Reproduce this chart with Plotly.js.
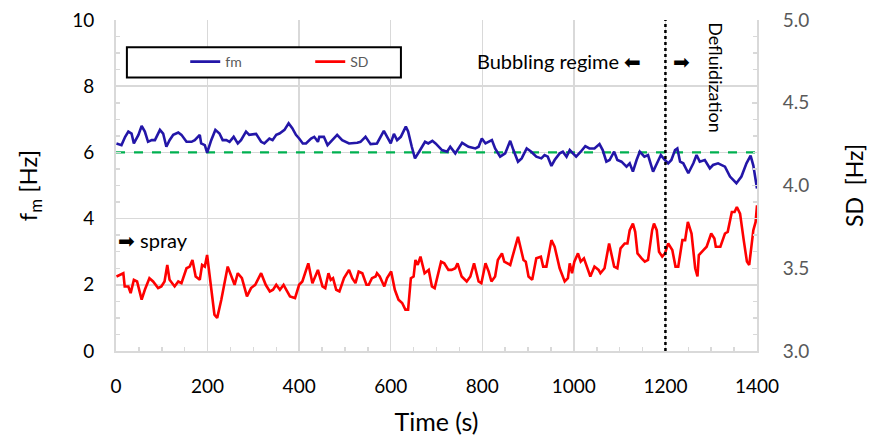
<!DOCTYPE html>
<html>
<head>
<meta charset="utf-8">
<script src="https://cdn.plot.ly/plotly-3.0.1.min.js"></script>
<style>html,body{margin:0;padding:0;background:#fff;}#chart{width:869px;height:436px;}</style>
</head>
<body>
<div id="chart"></div>
<script>
// fm series (left axis, Hz)
const fmTime = [1,12,20,27,34,39,49,56,63,70,78,85,96,103,110,117,125,136,143,154,165,172,183,186,194,199,208,217,226,233,241,248,257,266,273,284,291,306,317,324,335,342,350,357,368,377,385,393,400,408,415,426,433,441,
444,454,462,469,483,494,509,527,534,545,556,570,585,600,607,614,622,633,638,646,653,662,675,682,691,698,712,723,730,741,756,770,785,792,799,807,814,821,828,839,850,861,868,878,886,897,
907,918,929,936,943,951,958,969,976,984,991,998,1005,1015,1025,1034,1045,1056,1063,1071,1078,1088,1095,1104,1115,1122,1129,1137,1144,1154,1162,1173,1180,1190,1199,1206,1213,1221,1226,1232,1239,1250,1261,1268,1275,1286,1297,1304,1315,1330,1341,1355,1366,1377,1386,1392,1400];
const fmValues = [6.27,6.22,6.47,6.63,6.57,6.27,6.53,6.80,6.63,6.32,6.37,6.37,6.68,6.57,6.17,6.37,6.53,6.60,6.53,6.32,6.32,6.37,6.53,6.27,6.22,5.99,6.37,6.68,6.57,6.37,6.37,6.32,6.47,6.27,6.37,6.63,6.53,6.56,6.32,6.27,6.42,6.37,6.53,6.57,6.68,6.88,6.73,6.53,6.42,6.27,6.27,6.42,6.47,6.32,
6.47,6.47,6.22,6.32,6.53,6.37,6.27,6.29,6.32,6.47,6.25,6.27,6.65,6.27,6.56,6.37,6.47,6.78,6.63,6.17,5.82,6.02,6.32,6.27,6.35,6.27,6.07,6.02,6.17,5.97,6.29,6.17,6.12,6.17,6.42,6.27,6.32,6.37,6.12,5.87,5.97,6.35,6.07,5.72,5.82,6.12,
6.02,5.87,5.82,5.92,5.87,5.59,5.77,5.97,6.02,5.87,6.07,5.97,5.87,6.02,6.19,6.12,6.12,6.25,6.07,5.72,5.77,6.02,5.77,5.72,5.57,5.67,5.42,5.77,6.02,5.87,5.92,5.42,5.62,5.92,5.77,5.67,5.77,6.07,6.12,5.72,5.67,5.37,5.67,5.92,5.72,5.77,5.52,5.62,5.67,5.57,5.27,5.07,5.27,5.67,5.90,5.60,4.91];

// SD series (right axis, Hz)
const sdTime = [1,7,16,19,27,32,39,46,56,63,73,81,92,99,106,112,117,128,136,143,154,161,167,174,183,188,194,199,208,215,221,230,244,252,259,266,275,286,295,304,317,327,336,343,350,358,366,372,380,391,400,407,420,429,441,
451,457,464,469,474,481,488,498,509,516,523,530,538,547,552,559,567,570,576,586,592,601,609,617,625,632,638,644,650,654,659,665,674,683,690,696,710,717,726,733,741,746,755,766,774,782,792,798,807,814,820,828,834,843,848,861,866,878,890,895,
901,909,918,928,933,940,951,958,969,980,987,991,996,1001,1009,1015,1022,1029,1036,1045,1054,1058,1067,1077,1082,1088,1095,1102,1111,1117,1122,1129,1134,1139,1148,1155,1162,1171,1175,1181,1186,1193,1199,1206,1215,1222,1228,1237,1243,1249,1257,1265,1270,1273,1283,1290,1300,1307,1310,1320,1330,1336,1345,1351,1356,1363,1371,1378,1383,1392,1397,1400];
const sdValues = [3.45,3.46,3.47,3.39,3.39,3.35,3.43,3.42,3.31,3.37,3.44,3.42,3.38,3.39,3.42,3.52,3.43,3.39,3.42,3.41,3.50,3.51,3.55,3.45,3.43,3.52,3.51,3.58,3.37,3.22,3.20,3.31,3.51,3.45,3.40,3.47,3.44,3.33,3.38,3.40,3.47,3.40,3.36,3.37,3.40,3.37,3.40,3.37,3.33,3.32,3.40,3.42,3.53,3.41,3.49,
3.39,3.38,3.47,3.43,3.44,3.37,3.36,3.44,3.49,3.44,3.41,3.48,3.47,3.40,3.40,3.44,3.45,3.47,3.45,3.39,3.44,3.48,3.37,3.31,3.29,3.25,3.25,3.44,3.45,3.55,3.52,3.57,3.47,3.49,3.39,3.38,3.54,3.53,3.49,3.49,3.50,3.53,3.45,3.42,3.45,3.53,3.42,3.41,3.53,3.48,3.42,3.45,3.55,3.59,3.54,3.52,3.57,3.69,3.55,3.54,
3.45,3.43,3.56,3.57,3.51,3.51,3.67,3.63,3.50,3.42,3.44,3.53,3.47,3.54,3.59,3.54,3.56,3.51,3.45,3.51,3.49,3.47,3.50,3.65,3.59,3.51,3.50,3.62,3.65,3.65,3.73,3.77,3.72,3.59,3.56,3.54,3.55,3.73,3.77,3.73,3.60,3.57,3.59,3.65,3.61,3.51,3.51,3.67,3.67,3.78,3.71,3.50,3.45,3.58,3.61,3.63,3.71,3.68,3.63,3.63,3.71,3.72,3.84,3.84,3.87,3.83,3.67,3.54,3.52,3.73,3.78,3.88];

// reference level of fm and regime boundary
const refTime = [0, 1400];
const refValues = [6, 6];
const regimeBoundary = 1200;
const xTicks = [0,200,400,600,800,1000,1200,1400];
const yTicks = [0,2,4,6,8,10];
const y2Ticks = [3.0,3.5,4.0,4.5,5.0];

const FONT = 'Lato, "Open Sans", sans-serif';
const GRID = '#d9d9d9';

const traces = [
  {x: refTime, y: refValues, type: 'scatter', mode: 'lines', name: 'fm ref', showlegend: false,
   line: {color: '#00b050', width: 2.2, dash: 'dash'}, yaxis: 'y'},
  {x: fmTime, y: fmValues, type: 'scatter', mode: 'lines', name: 'fm',
   line: {color: '#2316a8', width: 2.6}, yaxis: 'y'},
  {x: sdTime, y: sdValues, type: 'scatter', mode: 'lines', name: 'SD',
   line: {color: '#ff0000', width: 2.6}, yaxis: 'y2'}
];

const layout = {
  width: 869, height: 436,
  margin: {l: 116, r: 112, t: 20, b: 85},
  paper_bgcolor: '#fff', plot_bgcolor: '#fff',
  font: {family: FONT, color: '#000'},
  showlegend: true,
  legend: {orientation: 'h', x: 0.108, y: 0.873, xanchor: 'left', yanchor: 'middle',
           entrywidth: 80, entrywidthmode: 'pixels',
           bgcolor: 'rgba(0,0,0,0)', borderwidth: 0,
           font: {family: FONT, size: 14, color: '#595959'}},
  xaxis: {range: [0, 1400], tickvals: xTicks, showgrid: true, gridcolor: GRID, gridwidth: 1.5,
          showline: true, linecolor: GRID, linewidth: 2, zeroline: false,
          ticks: 'inside', ticklen: 5, tickcolor: GRID, tickwidth: 1.5,
          minor: {dtick: 50, ticks: 'inside', ticklen: 4, tickcolor: GRID, tickwidth: 1.5, showgrid: false},
          tickfont: {family: FONT, size: 19, color: '#000'}, ticklabelstandoff: 17,
          title: {text: 'Time (s)', font: {family: FONT, size: 25, color: '#000'}, standoff: 18}},
  yaxis: {range: [0, 10], tickvals: yTicks, showgrid: true, gridcolor: GRID, gridwidth: 1.5,
          showline: true, linecolor: GRID, linewidth: 2, zeroline: false,
          ticks: 'inside', ticklen: 5, tickcolor: GRID, tickwidth: 1.5,
          minor: {dtick: 0.5, ticks: 'inside', ticklen: 4, tickcolor: GRID, tickwidth: 1.5, showgrid: false},
          tickfont: {family: FONT, size: 19, color: '#000'}, ticklabelstandoff: 16,
          title: {text: 'f<sub>m</sub> [Hz]', font: {family: FONT, size: 24, color: '#000'}, standoff: 28}},
  yaxis2: {range: [3, 5], tickvals: y2Ticks, ticktext: y2Ticks.map(v => v.toFixed(1)), overlaying: 'y', side: 'right',
           showgrid: false, showline: true, linecolor: GRID, linewidth: 2, zeroline: false,
           ticks: 'inside', ticklen: 5, tickcolor: GRID, tickwidth: 1.5,
           minor: {dtick: 0.1, ticks: 'inside', ticklen: 4, tickcolor: GRID, tickwidth: 1.5, showgrid: false},
           tickfont: {family: FONT, size: 19, color: '#595959'}, ticklabelstandoff: 20,
           title: {text: 'SD&nbsp;&nbsp;[Hz]', font: {family: FONT, size: 23, color: '#000'}, standoff: 39}},
  shapes: [
    {type: 'line', xref: 'x', x0: regimeBoundary, x1: regimeBoundary, yref: 'y', y0: 0, y1: 10,
     line: {color: '#000', width: 2.5, dash: 'dot'}, layer: 'above'},
    {type: 'rect', xref: 'paper', yref: 'paper', x0: 0.017, x1: 0.4445, y0: 0.826, y1: 0.918,
     fillcolor: '#fff', line: {color: '#000', width: 2}, layer: 'above'}
  ],
  annotations: [
    {x: 1152, y: 8.76, xref: 'x', yref: 'y', xanchor: 'right', yanchor: 'middle', showarrow: false,
     text: 'Bubbling regime \u2B05', font: {family: FONT, size: 20, color: '#000'}},
    {x: 1213, y: 8.76, xref: 'x', yref: 'y', xanchor: 'left', yanchor: 'middle', showarrow: false,
     text: '\u27A1', font: {family: FONT, size: 20, color: '#000'}},
    {x: 1310, y: 8.25, xref: 'x', yref: 'y', xanchor: 'center', yanchor: 'middle', showarrow: false,
     textangle: 90, text: 'Defluidization', font: {family: FONT, size: 18, color: '#000'}},
    {x: 1, y: 3.35, xref: 'x', yref: 'y', xanchor: 'left', yanchor: 'middle', showarrow: false,
     text: '\u27A1 spray', font: {family: FONT, size: 20, color: '#000'}}
  ]
};

Plotly.newPlot('chart', traces, layout, {staticPlot: true, displayModeBar: false});
</script>
</body>
</html>
